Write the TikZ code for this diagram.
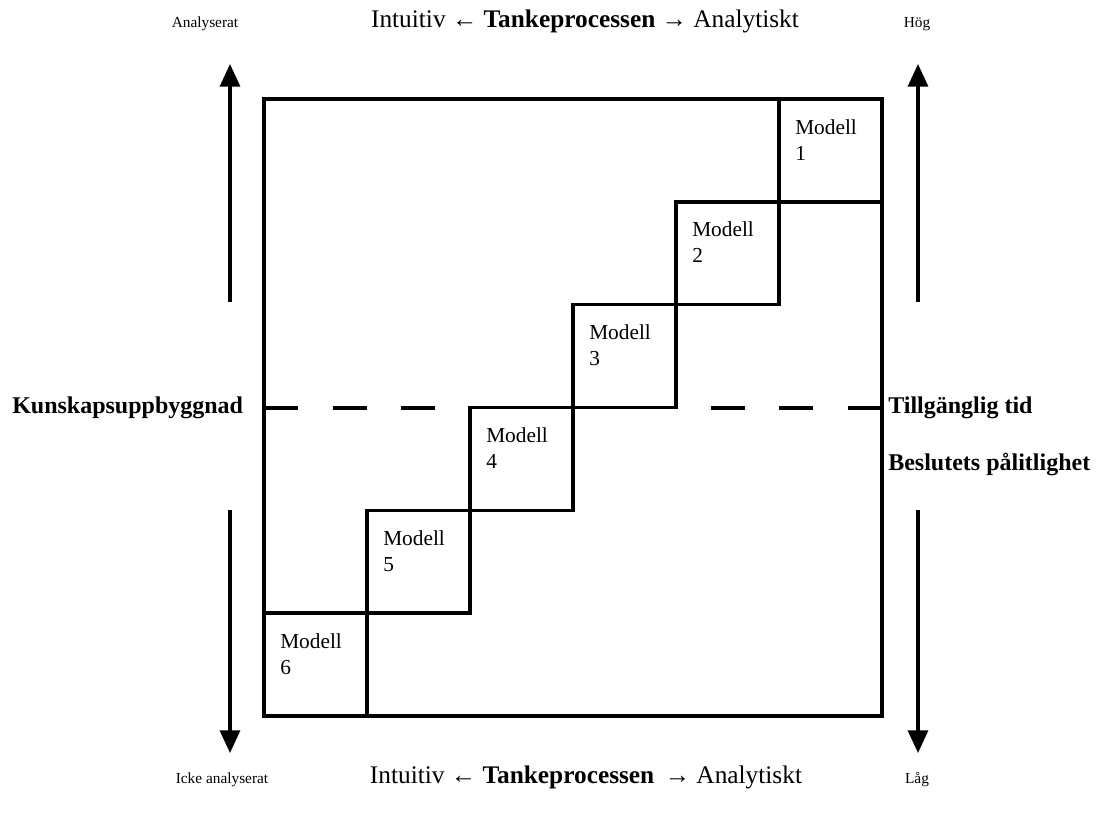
\documentclass[tikz,border=0pt]{standalone}
\usepackage{fontspec}
\setmainfont{Liberation Serif}
\usetikzlibrary{arrows.meta,calc,positioning}

\tikzset{boxline/.style={line width=2.5pt},
	axisarrow/.style={line width=2.5pt,-{Triangle[length=17pt,width=15pt]}},
	modelltext/.style={anchor=north west,align=left,inner sep=0pt,
		font=\fontsize{16}{19.5}\selectfont},
	sidelabel/.style={anchor=base,inner sep=0pt,font=\fontsize{11.5}{13}\selectfont},
	titlelabel/.style={anchor=base,inner sep=0pt,font=\fontsize{19}{22}\selectfont},
	boldlabel/.style={anchor=base west,inner sep=0pt,font=\fontsize{18}{21}\bfseries}}

\begin{document}
\begin{tikzpicture}[x=0.75pt,y=-0.75pt]
\useasboundingbox (0,0) rectangle (1106,818);

\begin{scope}
\coordinate (tl) at (264,99);
\coordinate (br) at (882,716);

\draw[boxline] (tl) rectangle (br);

% trappa av modeller
\foreach \i in {1,...,6} {
	\draw[boxline] ({882-103*\i},{99+102.83*(\i-1)}) coordinate (m\i) rectangle +(103,102.83);
	\node[modelltext] (lab\i) at ($(m\i)+(16,20)$) {Modell\\\i};
}

\coordinate (dl) at (264,408);
\coordinate (dm) at (468,408);
\coordinate (dn) at (677,408);
\coordinate (dr) at (882,408);
\draw[boxline,dash pattern=on 25.5pt off 26pt] (dl) -- (dm);
\draw[boxline,dash pattern=on 25.5pt off 26pt] (dr) -- (dn);
\end{scope}

\begin{scope}
\coordinate (lu0) at (230,302);
\coordinate (lu1) at (230,64);
\coordinate (ld0) at (230,510);
\coordinate (ld1) at (230,753);
\coordinate (ru0) at (918,302);
\coordinate (ru1) at (918,64);
\coordinate (rd0) at (918,510);
\coordinate (rd1) at (918,753);

\draw[axisarrow] (lu0) -- (lu1);
\draw[axisarrow] (ld0) -- (ld1);
\draw[axisarrow] (ru0) -- (ru1);
\draw[axisarrow] (rd0) -- (rd1);
\end{scope}

\node[titlelabel] (toptitle) at (585,27) {Intuitiv ← \textbf{Tankeprocessen} → Analytiskt};
\node[titlelabel] (bottitle) at (586,783) {Intuitiv ← \textbf{Tankeprocessen} \,→ Analytiskt};
\node[sidelabel] (analys) at (205,27) {Analyserat};
\node[sidelabel] (hog) at (917,27) {Hög};
\node[sidelabel] (icke) at (222,783) {Icke analyserat};
\node[sidelabel] (lag) at (917,783) {Låg};

\node[boldlabel] (kunskap) at (12,413) {Kunskapsuppbyggnad};
\node[boldlabel] (tid) at (888,413) {Tillgänglig tid};
\node[boldlabel] (palit) at (888,470) {Beslutets pålitlighet};

\end{tikzpicture}
\end{document}
